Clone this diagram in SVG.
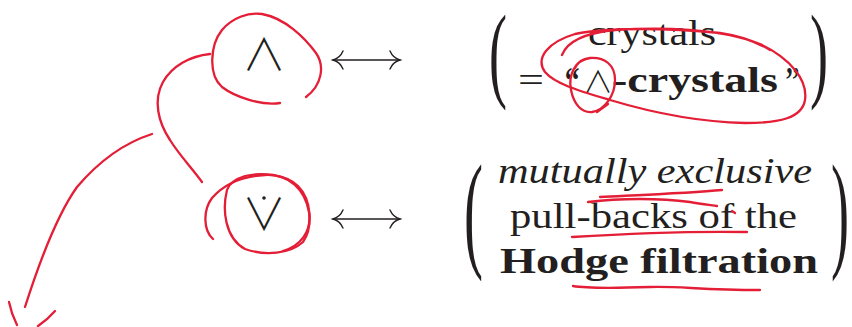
<svg xmlns="http://www.w3.org/2000/svg" width="852" height="327" viewBox="0 0 852 327">
<style>
.t{font-family:"Liberation Serif","Times New Roman",serif;fill:#231f20;font-size:36px}
.b{font-weight:bold}
.i{font-style:italic}
.p{font-family:"Liberation Serif","Times New Roman",serif;fill:#231f20}
.sym{font-family:"DejaVu Sans ExtraLight","Noto Sans CJK JP",sans-serif;fill:#231f20;font-weight:300}
.ink{fill:none;stroke:#e31e36;stroke-width:2.3;stroke-linecap:round;stroke-linejoin:round}
.arr{fill:none;stroke:#231f20;stroke-width:1.4;stroke-linecap:round}
</style>
<rect width="852" height="327" fill="#ffffff"/>
<g id="node-and">
<text class="sym" x="264" y="71" font-size="44" text-anchor="middle">∧</text>
</g>
<g id="node-vee">
<text class="sym" x="264" y="230" font-size="44" text-anchor="middle">∨</text>
<circle cx="264" cy="198" r="1.8" fill="#231f20"/>
</g>
<g id="node-crystals">
<text class="p" font-size="106" x="489" y="88" textLength="18" lengthAdjust="spacingAndGlyphs">(</text>
<text class="t" x="588" y="45" textLength="128" lengthAdjust="spacingAndGlyphs">crystals</text>
<text class="t" x="518" y="92" textLength="26" lengthAdjust="spacingAndGlyphs">=</text>
<text class="t b" x="564" y="92" textLength="16" lengthAdjust="spacingAndGlyphs">‘‘</text>
<text class="sym" x="598" y="92" font-size="30" text-anchor="middle">∧</text>
<text class="t b" x="612" y="92" textLength="166" lengthAdjust="spacingAndGlyphs">-crystals</text>
<text class="t b" x="785" y="92" textLength="15" lengthAdjust="spacingAndGlyphs">’’</text>
<text class="p" font-size="106" x="810" y="88" textLength="18" lengthAdjust="spacingAndGlyphs">)</text>
</g>
<g id="node-hodge">
<text class="p" font-size="129" x="464" y="254" textLength="19" lengthAdjust="spacingAndGlyphs">(</text>
<text class="t i" x="498" y="183" textLength="314" lengthAdjust="spacingAndGlyphs">mutually exclusive</text>
<text class="t" x="510" y="228" textLength="287" lengthAdjust="spacingAndGlyphs">pull-backs of the</text>
<text class="t b" x="500" y="273" textLength="318" lengthAdjust="spacingAndGlyphs">Hodge filtration</text>
<text class="p" font-size="129" x="831" y="254" textLength="18" lengthAdjust="spacingAndGlyphs">)</text>
</g>
<g id="connectors">
<g id="arrow-top">
<path class="arr" d="M333,60 H400"/>
<path class="arr" d="M343,51 Q340,58 333,60 Q340,62 343,69"/>
<path class="arr" d="M390,51 Q393,58 400,60 Q393,62 390,69"/>
</g>
<g id="arrow-bottom">
<path class="arr" d="M333,219 H400"/>
<path class="arr" d="M343,210 Q340,217 333,219 Q340,221 343,228"/>
<path class="arr" d="M390,210 Q393,217 400,219 Q393,221 390,228"/>
</g>
</g>
<g id="annotations">
<path class="ink" d="M280,103 C262,106 235,97 222,87 C208,75 210,45 222,30 C232,18 248,12 262,14 C285,18 305,38 316,53 C325,66 322,85 306,97"/>
<path class="ink" d="M210,54 C190,56 172,66 163,82 C153,100 158,122 170,140 C180,156 192,168 202,182"/>
<path class="ink" d="M152,134 C127,142 100,160 77,187 C57,215 40,260 25,307"/>
<path class="ink" d="M9,302 C11,312 14,319 17,325"/>
<path class="ink" d="M55,311 C49,318 44,322 38,326"/>
<path class="ink" d="M213,239 C203,230 203,210 212,198 C225,183 245,176 265,175 C290,174 305,190 309,212 C312,232 300,246 283,251"/>
<path class="ink" d="M227,190 C222,210 225,238 245,249 C265,256 290,254 303,242 C313,228 312,200 298,186 C285,174 262,172 245,176 C235,179 229,184 227,190"/>
<path class="ink" d="M562,55 C567,42 585,33 615,30 C660,27 720,28 760,44 C790,58 808,80 805,100 C802,118 780,123 745,123 C700,122 650,112 610,100 C580,91 555,84 545,72 C535,58 548,42 575,34 C610,27 670,28 720,33 C740,36 757,42 770,50"/>
<path class="ink" d="M590,58 C575,60 568,75 571,90 C574,105 582,113 592,112 C605,110 615,95 615,80 C615,65 605,57 590,58 C582,59 577,63 575,68"/>
<path class="ink" d="M597,112 L608,104"/>
<path class="ink" d="M600,197 C640,195 690,193 722,190"/>
<path class="ink" d="M588,202 C620,198 660,198 690,202 C700,204 710,205 717,206"/>
<path class="ink" d="M732,211 L735,213"/>
<path class="ink" d="M572,237 C620,234 690,231 747,232"/>
<path class="ink" d="M573,286 C590,289 620,288 650,287 C680,286 700,290 760,290"/>
</g>
</svg>
